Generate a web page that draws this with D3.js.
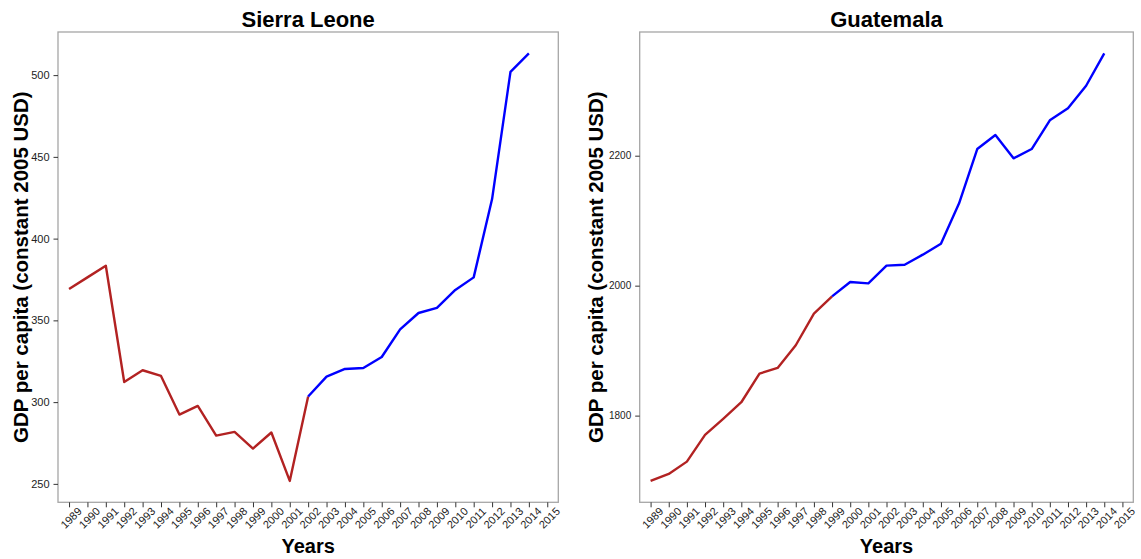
<!DOCTYPE html>
<html>
<head>
<meta charset="utf-8">
<script src="https://cdn.jsdelivr.net/npm/d3@7"></script>
<style>
  html, body { margin: 0; padding: 0; background: #fff; }
  svg { display: block; }
  text { font-family: "Liberation Sans", Arial, Helvetica, sans-serif; }
</style>
</head>
<body>
<svg id="chart" width="1141" height="559"></svg>
<script>
// ---- data ----
const years = ["1989","1990","1991","1992","1993","1994","1995","1996","1997","1998","1999","2000","2001","2002","2003","2004","2005","2006","2007","2008","2009","2010","2011","2012","2013","2014","2015"];
const dataYears = years.slice(0, 26); // 1989..2014

const sierraLeoneGDP = [369.2, 376.3, 383.4, 312.3, 319.5, 316.0, 292.4, 297.7, 279.5, 281.8, 271.6, 281.4, 251.8, 303.4, 315.6, 320.3, 320.9, 327.6, 344.5, 354.5, 357.6, 368.6, 376.3, 424.2, 502.0, 513.3];
const guatemalaGDP = [1699.5, 1710.3, 1729.2, 1770.3, 1795.0, 1820.6, 1864.6, 1873.4, 1908.3, 1956.9, 1983.6, 2005.7, 2003.6, 2030.8, 2032.3, 2047.7, 2064.6, 2126.8, 2210.3, 2231.8, 2196.0, 2210.3, 2254.5, 2273.0, 2307.7, 2357.5];

const sierraLeoneTicks = [250, 300, 350, 400, 450, 500];
const guatemalaTicks = [1800, 2000, 2200];

const sierraLeoneBreakYear = "2002"; // red up to here, blue from here
const guatemalaBreakYear = "1999";

const titles = ["Sierra Leone", "Guatemala"];
const yLabel = "GDP per capita (constant 2005 USD)";
const xLabel = "Years";

// ---- layout ----
const panels = [
  { title: titles[0], values: sierraLeoneGDP, ticks: sierraLeoneTicks, brk: sierraLeoneBreakYear,
    x0: 58, x1: 558.3, yTickFont: 11, yLabelX: 27.5 },
  { title: titles[1], values: guatemalaGDP, ticks: guatemalaTicks, brk: guatemalaBreakYear,
    x0: 639.7, x1: 1133.3, yTickFont: 10, yLabelX: 603 }
];
const y0 = 32, y1 = 502.3;
const RED = "#B22222", BLUE = "#0000FF";

const svg = d3.select("#chart");

panels.forEach(p => {
  const g = svg.append("g");
  const x = d3.scalePoint().domain(years).range([p.x0, p.x1]).padding(0.6);
  const mn = d3.min(p.values), mx = d3.max(p.values), r = mx - mn;
  const y = d3.scaleLinear().domain([mn - 0.05 * r, mx + 0.05 * r]).range([y1, y0]);

  const pts = dataYears.map((yr, i) => ({ yr, v: p.values[i] }));
  const bi = dataYears.indexOf(p.brk);
  const redPts = pts.slice(0, bi + 1);
  const bluePts = pts.slice(bi);

  const line = d3.line().x(d => x(d.yr)).y(d => y(d.v));

  g.append("path").datum(redPts).attr("d", line)
    .attr("fill", "none").attr("stroke", RED).attr("stroke-width", 2.4)
    .attr("stroke-linejoin", "round").attr("stroke-linecap", "butt");
  g.append("path").datum(bluePts).attr("d", line)
    .attr("fill", "none").attr("stroke", BLUE).attr("stroke-width", 2.4)
    .attr("stroke-linejoin", "round").attr("stroke-linecap", "butt");

  // border
  g.append("rect").attr("x", p.x0).attr("y", y0)
    .attr("width", p.x1 - p.x0).attr("height", y1 - y0)
    .attr("fill", "none").attr("stroke", "#a6a6a6").attr("stroke-width", 1.3);

  // y axis
  const ya = g.append("g").attr("transform", `translate(${p.x0},0)`)
    .call(d3.axisLeft(y).tickValues(p.ticks).tickSize(4.5).tickPadding(4).tickFormat(d3.format("d")));
  ya.select(".domain").remove();
  ya.selectAll(".tick line").attr("stroke", "#333").attr("stroke-width", 1);
  ya.selectAll(".tick text").attr("fill", "#222").style("font-size", p.yTickFont + "px")
    .style("font-family", '"Liberation Sans", Arial, sans-serif');

  // x axis
  const xa = g.append("g").attr("transform", `translate(0,${y1})`)
    .call(d3.axisBottom(x).tickSize(5).tickPadding(0));
  xa.select(".domain").remove();
  xa.selectAll(".tick line").attr("stroke", "#333").attr("stroke-width", 1);
  xa.selectAll(".tick text")
    .attr("fill", "#222").style("font-size", "11px")
    .style("font-family", '"Liberation Sans", Arial, sans-serif')
    .attr("text-anchor", "middle").attr("dy", null).attr("y", null)
    .attr("dominant-baseline", "central")
    .attr("transform", "translate(1.5,15.5) rotate(-45)");

  // titles
  const cx = (p.x0 + p.x1) / 2;
  g.append("text").attr("x", cx).attr("y", 27.3).attr("text-anchor", "middle")
    .style("font-size", "22px").style("font-weight", "bold").attr("fill", "#000").text(p.title);
  g.append("text").attr("x", cx).attr("y", 553).attr("text-anchor", "middle")
    .style("font-size", "20px").style("font-weight", "bold").attr("fill", "#000").text(xLabel);
  g.append("text")
    .attr("transform", `translate(${p.yLabelX},${(y0 + y1) / 2}) rotate(-90)`)
    .attr("text-anchor", "middle")
    .style("font-size", "20.5px").style("font-weight", "bold").attr("fill", "#000").text(yLabel);
});
</script>
</body>
</html>
